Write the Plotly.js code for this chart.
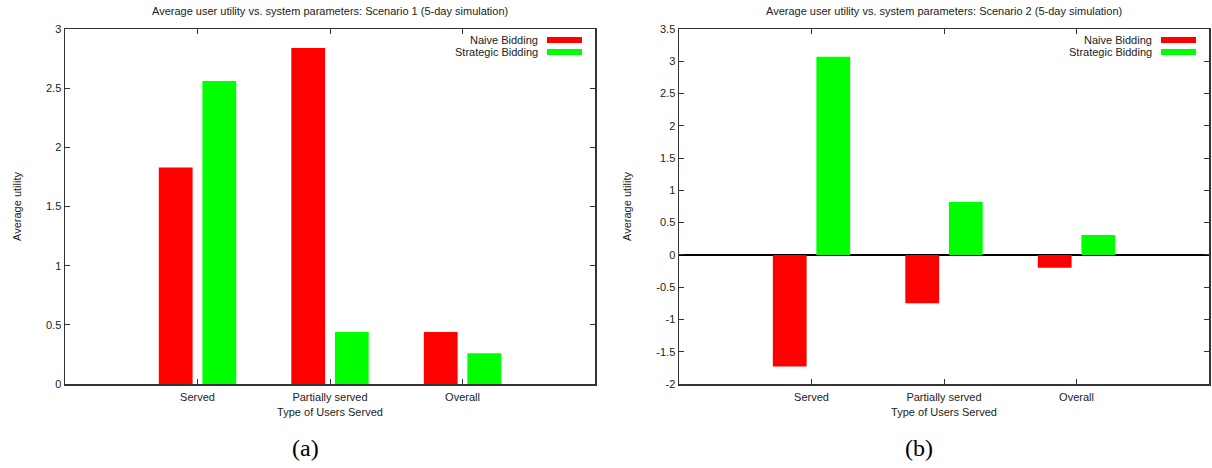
<!DOCTYPE html>
<html>
<head>
<meta charset="utf-8">
<script src="https://cdn.plot.ly/plotly-3.0.1.min.js"></script>
<style>html,body{margin:0;padding:0;background:#fff}#chart{width:1212px;height:468px}</style>
</head>
<body>
<div id="chart"></div>
<script>
// ---- data ----
const categories = ["Served", "Partially served", "Overall"];
const seriesNames = ["Naive Bidding", "Strategic Bidding"];
const scenario1Naive = [1.83, 2.84, 0.44];
const scenario1Strategic = [2.56, 0.44, 0.26];
const scenario2Naive = [-1.73, -0.75, -0.2];
const scenario2Strategic = [3.07, 0.82, 0.31];
const titles = [
  "Average user utility vs. system parameters: Scenario 1 (5-day simulation)",
  "Average user utility vs. system parameters: Scenario 2 (5-day simulation)"
];
const xTitle = "Type of Users Served";
const yTitle = "Average utility";
const panelLabels = ["(a)", "(b)"];
const yTicks1 = [0, 0.5, 1, 1.5, 2, 2.5, 3];
const yTickText1 = ["0", "0.5", "1", "1.5", "2", "2.5", "3"];
const yTicks2 = [-2, -1.5, -1, -0.5, 0, 0.5, 1, 1.5, 2, 2.5, 3, 3.5];
const yTickText2 = ["-2", "-1.5", "-1", "-0.5", "0", "0.5", "1", "1.5", "2", "2.5", "3", "3.5"];
const colors = ["#ff0000", "#00ff00"];

// ---- layout helpers ----
const W = 1212, H = 468;
const px = x => x / W;
const py = y => 1 - y / H;
const FONT = "Liberation Sans, Arial, sans-serif";
const barW = 0.255;
const offsets = [-0.292, 0.037];

function bar(x, y, i, xa, ya) {
  return {type: "bar", x: x, y: y, name: seriesNames[i], xaxis: xa, yaxis: ya,
    marker: {color: colors[i], line: {width: 0}}, width: barW, offset: offsets[i],
    showlegend: false, hoverinfo: "x+y"};
}

const traces = [
  bar(categories, scenario1Naive, 0, "x", "y"),
  bar(categories, scenario1Strategic, 1, "x", "y"),
  bar(categories, scenario2Naive, 0, "x2", "y2"),
  bar(categories, scenario2Strategic, 1, "x2", "y2")
];

const axisCommon = {
  showline: true, mirror: "ticks", linecolor: "#333", linewidth: 1.5,
  ticks: "inside", ticklen: 5, tickwidth: 1, tickcolor: "#333",
  showgrid: false, tickfont: {family: FONT, size: 11, color: "#222"}
};
function xAxis(domain, anchor) {
  return Object.assign({}, axisCommon, {
    domain: domain, anchor: anchor, type: "category", range: [-1, 3],
    zeroline: false, ticklabelstandoff: 2,
    title: {text: xTitle, font: {family: FONT, size: 11, color: "#222"}, standoff: 6}
  });
}
function yAxis(domain, anchor, range, tv, tt, zl) {
  return Object.assign({}, axisCommon, {
    domain: domain, anchor: anchor, range: range, tickvals: tv, ticktext: tt,
    zeroline: zl, zerolinecolor: "#000", zerolinewidth: 1.2,
    title: {text: yTitle, font: {family: FONT, size: 11, color: "#222"}, standoff: 22}
  });
}

const yDom = [py(384), py(29)];
const annotations = [];
const shapes = [];
const panels = [{x0: 65, x1: 595}, {x0: 679, x1: 1209}];
panels.forEach((p, k) => {
  const cx = (p.x0 + p.x1) / 2;
  annotations.push({xref: "paper", yref: "paper", x: px(cx), y: py(11), text: titles[k],
    showarrow: false, xanchor: "center", yanchor: "middle",
    font: {family: FONT, size: 11, color: "#222"}});
  annotations.push({xref: "paper", yref: "paper", x: px(cx - 25), y: py(448), text: panelLabels[k],
    showarrow: false, xanchor: "center", yanchor: "middle",
    font: {family: "Liberation Serif, DejaVu Serif, serif", size: 24, color: "#000"}});
  // legend (gnuplot style: text then sample)
  seriesNames.forEach((n, i) => {
    const yy = 40 + i * 12;
    annotations.push({xref: "paper", yref: "paper", x: px(p.x1 - 55), y: py(yy), text: n,
      showarrow: false, xanchor: "right", yanchor: "middle",
      font: {family: FONT, size: 11, color: "#222"}});
    shapes.push({type: "rect", xref: "paper", yref: "paper",
      x0: px(p.x1 - 48), x1: px(p.x1 - 13), y0: py(yy + 3), y1: py(yy - 3),
      fillcolor: colors[i], line: {width: 0}});
  });
});

const layout = {
  width: W, height: H, margin: {l: 0, r: 0, t: 0, b: 0},
  paper_bgcolor: "#fff", plot_bgcolor: "#fff", barmode: "overlay",
  showlegend: false,
  xaxis: xAxis([px(65), px(595)], "y"),
  yaxis: yAxis(yDom, "x", [0, 3], yTicks1, yTickText1, false),
  xaxis2: xAxis([px(679), px(1209)], "y2"),
  yaxis2: yAxis(yDom, "x2", [-2, 3.5], yTicks2, yTickText2, true),
  annotations: annotations, shapes: shapes
};

Plotly.newPlot("chart", traces, layout, {displayModeBar: false, staticPlot: true});
</script>
</body>
</html>
